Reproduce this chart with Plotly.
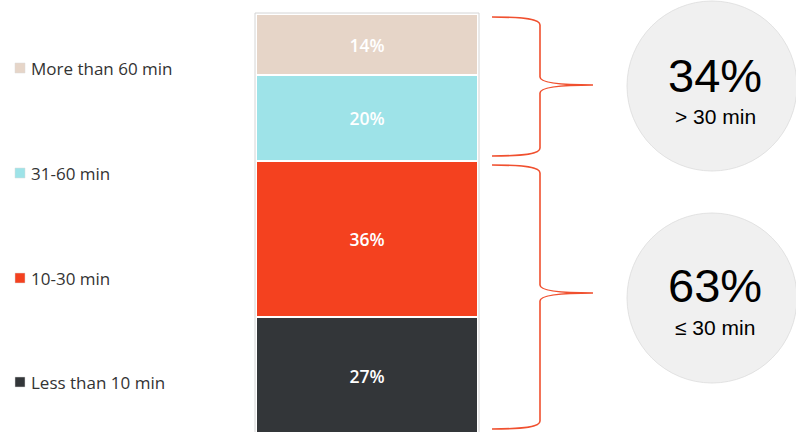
import plotly.graph_objects as go

# ---- data ----
categories = ["Less than 10 min", "10-30 min", "31-60 min", "More than 60 min"]
values = [27, 36, 20, 14]
colors = ["#333639", "#f4411f", "#9ee3e8", "#e6d5c8"]
summary_labels = ["> 30 min", "≤ 30 min"]
over30 = values[2] + values[3]
upto30 = values[0] + values[1]

W, H = 796, 432
BAR_X, BAR_W = 367, 222
total = sum(values)
bar_top_px, bar_bot_px = 14, 434
pxper = (bar_bot_px - bar_top_px) / total
y_lo = (bar_bot_px - H) / pxper
y_hi = total + bar_top_px / pxper

fig = go.Figure()
for cat, v, c in zip(categories, values, colors):
    fig.add_trace(go.Bar(
        x=[BAR_X], y=[v], width=BAR_W, name=cat,
        marker=dict(color=c, line=dict(color="white", width=2)),
        text=[f"{v}%"], textposition="inside", insidetextanchor="middle",
        textfont=dict(family="Open Sans", size=17.5, color="white", weight=600),
        hoverinfo="skip", showlegend=False,
    ))

# legend markers (pixel coordinate overlay axes)
legend_py = [382, 278, 173, 68]
fig.add_trace(go.Scatter(
    x=[20] * 4, y=legend_py, mode="markers",
    marker=dict(symbol="square", size=10, color=colors,
                line=dict(color="#d8d8d8", width=0.5)),
    xaxis="x2", yaxis="y2", hoverinfo="skip", showlegend=False,
))

annotations = []
for cat, py in zip(categories, legend_py):
    annotations.append(dict(x=29, y=py, xref="x2", yref="y2", text=cat, showarrow=False,
                            xanchor="left", yanchor="middle",
                            font=dict(family="Open Sans", size=17, color="#333333")))

shapes = []
# outer border of the bar
shapes.append(dict(type="rect", xref="x2", yref="y2", x0=255, x1=479, y0=13, y1=436,
                   line=dict(color="#d4d4d4", width=1), fillcolor="rgba(0,0,0,0)", layer="above"))
brace_color = "#f0502f"
def brace(top, tip, bot):
    return (f"M 492,{top} C 525,{top} 540,{top+2} 540,{top+8} "
            f"L 540,{tip-8} C 540,{tip-2} 560,{tip} 593,{tip} "
            f"C 560,{tip} 540,{tip+2} 540,{tip+8} "
            f"L 540,{bot-8} C 540,{bot-2} 525,{bot} 492,{bot}")
shapes.append(dict(type="path", xref="x2", yref="y2", path=brace(17, 85, 156),
                   line=dict(color=brace_color, width=1.6)))
shapes.append(dict(type="path", xref="x2", yref="y2", path=brace(165, 293, 429),
                   line=dict(color=brace_color, width=1.6)))
# circles
for cy in (86, 298):
    shapes.append(dict(type="circle", xref="x2", yref="y2", x0=627, x1=797, y0=cy - 85, y1=cy + 85,
                       fillcolor="#f0f0f0", line=dict(color="#dcdcdc", width=0.8), layer="below"))

for big, small, by, sy in ((f"{over30}%", summary_labels[0], 75, 116),
                           (f"{upto30}%", summary_labels[1], 285, 327)):
    annotations.append(dict(x=715, y=by, xref="x2", yref="y2", text=big, showarrow=False,
                            font=dict(family="Liberation Sans", size=47, color="black")))
    annotations.append(dict(x=715, y=sy, xref="x2", yref="y2", text=small, showarrow=False,
                            font=dict(family="Liberation Sans", size=21, color="black")))

fig.update_layout(
    width=W, height=H, margin=dict(l=0, r=0, t=0, b=0),
    paper_bgcolor="white", plot_bgcolor="white",
    barmode="stack", bargap=0,
    xaxis=dict(range=[0, W], visible=False, fixedrange=True),
    yaxis=dict(range=[y_lo, y_hi], visible=False, fixedrange=True),
    xaxis2=dict(range=[0, W], overlaying="x", visible=False, fixedrange=True),
    yaxis2=dict(range=[H, 0], overlaying="y", visible=False, fixedrange=True),
    shapes=shapes, annotations=annotations, showlegend=False,
)
fig.write_html("out.html")
